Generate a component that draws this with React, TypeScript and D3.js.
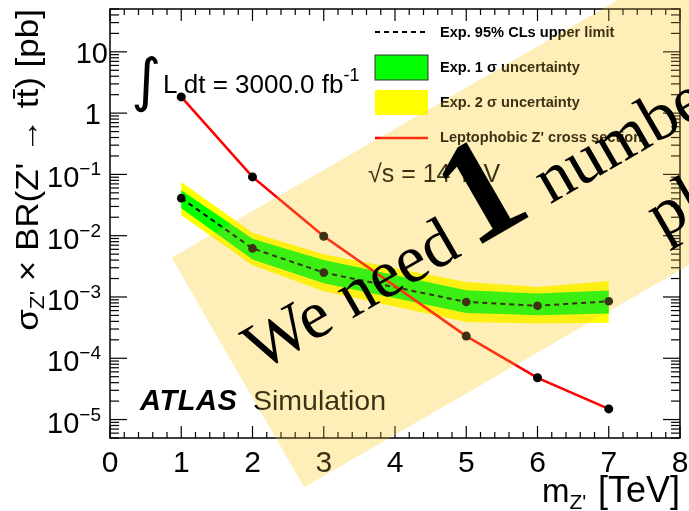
import React from 'react';
import * as d3 from 'd3';

// ---- data ----
const massPoints = [1, 2, 3, 5, 6, 7]; // m_Z' [TeV]
const zprimeXsec = [1.84, 0.091, 0.0098, 2.3e-4, 4.8e-5, 1.49e-5];
const expLimit = [0.041, 0.0062, 0.0025, 0.00083, 0.00072, 0.00085];
const oneSigmaUp = [0.055, 0.0089, 0.0040, 0.00129, 0.00114, 0.00127];
const oneSigmaDown = [0.028, 0.0041, 0.00168, 0.00055, 0.000505, 0.00054];
const twoSigmaUp = [0.0755, 0.0112, 0.0050, 0.00176, 0.00146, 0.00183];
const twoSigmaDown = [0.0216, 0.0033, 0.00124, 0.00039, 0.00037, 0.00038];

const xTickValues = [0, 1, 2, 3, 4, 5, 6, 7, 8];
const yTickValues = [1e-5, 1e-4, 1e-3, 1e-2, 1e-1, 1, 10];
const yTickBase = ['10', '10', '10', '10', '10', '1', '10'];
const yTickExp = ['−5', '−4', '−3', '−2', '−1', '', ''];
const legendLabels = [
  'Exp. 95% CLs upper limit',
  'Exp. 1 σ uncertainty',
  'Exp. 2 σ uncertainty',
  "Leptophobic Z' cross section",
];

const W = 689;
const H = 511;
const SANS = "'Liberation Sans', Arial, Helvetica, sans-serif";
const SERIF = "'Liberation Serif', 'Times New Roman', serif";

export default function App() {
  const left = 110, right = 680, top = 9, bottom = 438;
  const x = d3.scaleLinear().domain([0, 8]).range([left, right]);
  const y = d3.scaleLog().domain([5e-6, 50]).range([bottom, top]);

  const idx = massPoints.map((_, i) => i);
  const band = (lo: number[], hi: number[]) =>
    d3.area<number>()
      .x((i) => x(massPoints[i]))
      .y0((i) => y(lo[i]))
      .y1((i) => y(hi[i]))(idx) || '';
  const line = (vals: number[]) =>
    d3.line<number>().x((i) => x(massPoints[i])).y((i) => y(vals[i]))(idx) || '';

  // ticks
  const xMinor: number[] = [];
  for (let v = 0; v <= 8.0001; v += 0.2) {
    const r = Math.round(v * 10) / 10;
    if (Math.abs(r - Math.round(r)) > 1e-6) xMinor.push(r);
  }
  const yMinor: number[] = [];
  for (let e = -6; e <= 1; e++) {
    for (let k = 2; k <= 9; k++) {
      const v = k * Math.pow(10, e);
      if (v >= 5e-6 * 0.999 && v <= 50 * 1.001) yMinor.push(v);
    }
  }

  const tickColor = '#000';
  return (
    <svg width={W} height={H} style={{ position: 'absolute', left: 0, top: 0 }}>
      <rect x={0} y={0} width={W} height={H} fill="#fff" />

      {/* uncertainty bands */}
      <path d={band(twoSigmaDown, twoSigmaUp)} fill="#ffff00" stroke="none" />
      <path d={band(oneSigmaDown, oneSigmaUp)} fill="#00ff00" stroke="none" />

      {/* expected limit */}
      <path d={line(expLimit)} fill="none" stroke="#000" strokeWidth={2} strokeDasharray="5 4" />
      {massPoints.map((m, i) => (
        <circle key={'e' + i} cx={x(m)} cy={y(expLimit[i])} r={4.3} fill="#000" />
      ))}

      {/* Z' cross section */}
      <path d={line(zprimeXsec)} fill="none" stroke="#ff0000" strokeWidth={2.5} />
      {massPoints.map((m, i) => (
        <circle key={'x' + i} cx={x(m)} cy={y(zprimeXsec[i])} r={4.5} fill="#000" />
      ))}

      {/* frame */}
      <rect x={left} y={top} width={right - left} height={bottom - top} fill="none" stroke="#000" strokeWidth={1.5} />

      {/* x ticks */}
      {xTickValues.map((v) => (
        <g key={'xt' + v}>
          <line x1={x(v)} x2={x(v)} y1={bottom} y2={bottom - 12} stroke={tickColor} strokeWidth={1.2} />
          <line x1={x(v)} x2={x(v)} y1={top} y2={top + 12} stroke={tickColor} strokeWidth={1.2} />
          <text x={x(v)} y={472} textAnchor="middle" fontFamily={SANS} fontSize={30}>{v}</text>
        </g>
      ))}
      {xMinor.map((v) => (
        <g key={'xm' + v}>
          <line x1={x(v)} x2={x(v)} y1={bottom} y2={bottom - 6} stroke={tickColor} strokeWidth={1.2} />
          <line x1={x(v)} x2={x(v)} y1={top} y2={top + 6} stroke={tickColor} strokeWidth={1.2} />
        </g>
      ))}

      {/* y ticks */}
      {yTickValues.map((v, i) => (
        <g key={'yt' + i}>
          <line x1={left} x2={left + 17} y1={y(v)} y2={y(v)} stroke={tickColor} strokeWidth={1.2} />
          <line x1={right} x2={right - 17} y1={y(v)} y2={y(v)} stroke={tickColor} strokeWidth={1.2} />
          {yTickExp[i] ? (
            <text x={101} y={y(v) + 13} textAnchor="end" fontFamily={SANS} fontSize={29}>
              {yTickBase[i]}
              <tspan fontSize={19} dy={-12}>{yTickExp[i]}</tspan>
            </text>
          ) : (
            <text x={yTickBase[i] === '10' ? 108 : 101} y={y(v) + 11} textAnchor="end" fontFamily={SANS} fontSize={29}>
              {yTickBase[i]}
            </text>
          )}
        </g>
      ))}
      {yMinor.map((v, i) => (
        <g key={'ym' + i}>
          <line x1={left} x2={left + 9} y1={y(v)} y2={y(v)} stroke={tickColor} strokeWidth={1.2} />
          <line x1={right} x2={right - 9} y1={y(v)} y2={y(v)} stroke={tickColor} strokeWidth={1.2} />
        </g>
      ))}

      {/* axis titles */}
      <text x={542} y={502} fontFamily={SANS} fontSize={33}>
        m<tspan fontSize={21} dy={7}>Z'</tspan>
      </text>
      <text x={680} y={502} textAnchor="end" fontFamily={SANS} fontSize={36}>[TeV]</text>
      <text transform="translate(38,9) rotate(-90) scale(1.13,1)" textAnchor="end" fontFamily={SANS} fontSize={31}>
        σ<tspan fontSize={20} dy={6}>Z'</tspan>
        <tspan dy={-6}> × BR(Z' → t{'t\u0304'}) [pb]</tspan>
      </text>

      {/* annotations */}
      <text x={131} y={100} fontFamily="'DejaVu Sans', sans-serif" fontSize={58}>∫</text>
      <text x={163} y={93} fontFamily={SANS} fontSize={26}>
        L dt = 3000.0 fb<tspan fontSize={18} dy={-12}>-1</tspan>
      </text>
      <text x={368} y={182} fontFamily={SANS} fontSize={25}>√s = 14 TeV</text>
      <text x={140} y={410} fontFamily={SANS} fontSize={29} fontWeight="bold" fontStyle="italic" letterSpacing={0.6}>ATLAS</text>
      <text x={253} y={410} fontFamily={SANS} fontSize={28.5}>Simulation</text>

      {/* legend */}
      <line x1={375} x2={428} y1={32} y2={32} stroke="#000" strokeWidth={2} strokeDasharray="5 4" />
      <rect x={375} y={55} width={53} height={25} fill="#00ff00" stroke="#333" strokeWidth={1} />
      <rect x={375} y={90} width={53} height={25} fill="#ffff00" />
      <line x1={375} x2={428} y1={138} y2={138} stroke="#ff0000" strokeWidth={2.5} />
      {legendLabels.map((l, i) => (
        <text key={'lg' + i} x={440} y={37 + 35 * i} fontFamily={SANS} fontSize={14.6} fontWeight="bold">{l}</text>
      ))}

      {/* watermark overlay */}
      <g transform="translate(255,362) rotate(-30)">
        <rect x={-20} y={-132} width={1200} height={265} fill="rgb(255,250,215)" style={{ mixBlendMode: 'multiply' }} />
        <rect x={-20} y={-132} width={1200} height={265} fill="rgb(245,205,85)" fillOpacity={0.24} />
      </g>
      <g transform="translate(260,372) rotate(-30)">
        <text x={0} y={0} fontFamily={SERIF} fontSize={68} fill="#000">We need</text>
        <text x={245} y={0} fontFamily={SERIF} fontSize={145} fontWeight="bold" fill="#000">1</text>
        <text x={335} y={0} fontFamily={SERIF} fontSize={68} fill="#000">number</text>
        <text x={415} y={86} fontFamily={SERIF} fontSize={68} fill="#000">plot</text>
      </g>
    </svg>
  );
}
